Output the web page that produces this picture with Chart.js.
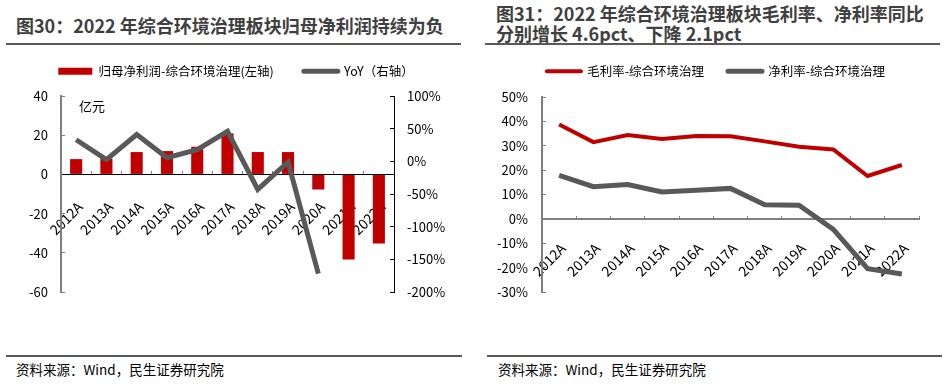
<!DOCTYPE html>
<html>
<head>
<meta charset="utf-8">
<script src="https://cdn.jsdelivr.net/npm/chart.js@4.4.1/dist/chart.umd.min.js"></script>
<style>
  body { margin: 0; width: 947px; height: 389px; background: #fff; position: relative; overflow: hidden;
         font-family: "Noto Sans CJK SC", sans-serif; }
  .title { position: absolute; font-weight: bold; font-size: 18px; color: #404040; line-height: 20px; white-space: nowrap; }
  .rule { position: absolute; height: 2px; background: #595959; }
  .src { position: absolute; font-size: 13.5px; color: #000; line-height: 16px; white-space: nowrap; }
  .box { position: absolute; width: 470px; }
</style>
</head>
<body>
<div class="title" style="left:16px;top:15px;">图30：2022 年综合环境治理板块归母净利润持续为负</div>
<div class="title" style="left:496px;top:3px;">图31：2022 年综合环境治理板块毛利率、净利率同比<br>分别增长 4.6pct、下降 2.1pct</div>
<div class="rule" style="left:6px;top:43px;width:455px;"></div>
<div class="rule" style="left:485px;top:43px;width:455px;"></div>

<div class="box" style="left:0px;top:35px;height:267px;"><canvas id="left_chart"></canvas></div>
<div class="box" style="left:477px;top:41px;height:261px;"><canvas id="right_chart"></canvas></div>

<div class="rule" style="left:6px;top:355px;width:456px;"></div>
<div class="rule" style="left:487px;top:355px;width:455px;"></div>
<div class="src" style="left:16px;top:361px;">资料来源：Wind，民生证券研究院</div>
<div class="src" style="left:498px;top:361px;">资料来源：Wind，民生证券研究院</div>

<script>
// 数据
const years = ['2012A', '2013A', '2014A', '2015A', '2016A', '2017A', '2018A', '2019A', '2020A', '2021A', '2022A'];
const netProfit = [7.8, 8.0, 11.4, 11.9, 14.1, 20.9, 11.4, 11.4, -7.7, -43.4, -35.2];   // 亿元
const netProfitYoy = [33, 2.5, 41, 5.6, 18, 46, -43, -1, -172, null, null];             // %
const grossMargin = [38.7, 31.5, 34.4, 32.8, 34.0, 33.9, 31.8, 29.6, 28.5, 17.6, 22.1]; // %
const netMargin = [17.8, 13.2, 14.1, 11.0, 11.7, 12.5, 5.8, 5.6, -4.3, -20.4, -22.6];   // %

const RED = '#C00000';
const GRAY = '#595959';
const FONT = '"Noto Sans CJK SC", sans-serif';

Chart.defaults.font.family = FONT;
Chart.defaults.font.size = 13;
Chart.defaults.color = '#000';
Chart.defaults.animation = false;

function legendItems(chart) {
    return chart.data.datasets.map((ds, i) => ({
        text       : ds.label,
        fillStyle  : ds.type === 'line' ? ds.borderColor : ds.backgroundColor,
        strokeStyle: ds.type === 'line' ? ds.borderColor : ds.backgroundColor,
        lineWidth  : ds.type === 'line' ? ds.legendWidth : 0,
        lineCap    : 'round',
        pointStyle : ds.type === 'line' ? 'line' : 'rect',
        fontColor  : '#000',
        hidden     : false,
        datasetIndex: i
    }));
}

function legendOpts(padding) {
    return {
        labels: {
            usePointStyle : true,
            pointStyleWidth: 34,
            boxHeight     : 7,
            padding       : padding,
            font          : {size: 12.5},
            generateLabels: legendItems
        }
    };
}

// 图例高度固定、水平微调
const legendFix = {
    id: 'legendFix',
    afterInit(chart, args, opts) {
        const lg = chart.legend;
        const fit = lg.fit;
        lg.fit = function () {
            fit.call(this);
            this.height = opts.height;
        };
    },
    afterLayout(chart, args, opts) {
        chart.legend.left += opts.dx;
        chart.legend.right += opts.dx;
    }
};

// 左图：亿元 标注
const unitLabel = {
    id: 'unitLabel',
    afterDraw(chart) {
        const ctx = chart.ctx;
        ctx.save();
        ctx.font = '13px ' + FONT;
        ctx.fillStyle = '#000';
        ctx.textBaseline = 'middle';
        ctx.fillText('亿元', chart.chartArea.left + 18, chart.chartArea.top + 10);
        ctx.restore();
    }
};

function xScale(pad, borderColor) {
    return {
        position: {y: 0},
        offset  : true,
        grid    : {drawOnChartArea: false, offset: true, tickLength: -4, color: '#7f7f7f'},
        border  : {color: borderColor, width: borderColor === '#000' ? 1 : 2},
        ticks   : {minRotation: 45, maxRotation: 45, autoSkip: false, padding: pad, labelOffset: 4, font: {size: 14}},
        afterFit: s => { s.height = 0; }
    };
}

function fixWidth(w) {
    return s => { s.width = w; s.paddingTop = 0; s.paddingBottom = 0; };
}

new Chart(document.getElementById('left_chart'), {
    data: {
        labels: years,
        datasets: [{
            type           : 'bar',
            label          : '归母净利润-综合环境治理(左轴)',
            data           : netProfit,
            backgroundColor: RED,
            yAxisID        : 'y',
            barPercentage  : 0.4,
            categoryPercentage: 1,
            order          : 1
        }, {
            type       : 'line',
            label      : 'YoY（右轴）',
            data       : netProfitYoy,
            borderColor: GRAY,
            backgroundColor: GRAY,
            borderWidth: 5,
            legendWidth: 5,
            pointRadius: 0,
            tension    : 0,
            yAxisID    : 'y1',
            order      : 0
        }]
    },
    options: {
        responsive: true,
        maintainAspectRatio: false,
        layout: {padding: {top: 0, bottom: 10, left: 0, right: 0}},
        plugins: {
            legend   : legendOpts(30),
            legendFix: {height: 61, dx: 1},
            tooltip  : {enabled: false}
        },
        scales: {
            x: xScale(28, '#000'),
            y: {
                position: 'left',
                min: -60, max: 40,
                ticks   : {stepSize: 20, padding: 17},
                grid    : {drawOnChartArea: false, tickLength: -4, color: '#7f7f7f'},
                border  : {color: '#7f7f7f', width: 2},
                afterFit: fixWidth(61)
            },
            y1: {
                position: 'right',
                min: -200, max: 100,
                ticks   : {stepSize: 50, padding: 17, callback: v => v + '%'},
                grid    : {drawOnChartArea: false, tickLength: -4, color: '#000'},
                border  : {color: '#000', width: 1},
                afterFit: fixWidth(76)
            }
        }
    },
    plugins: [legendFix, unitLabel]
});

new Chart(document.getElementById('right_chart'), {
    type: 'line',
    data: {
        labels: years,
        datasets: [{
            type       : 'line',
            label      : '毛利率-综合环境治理',
            data       : grossMargin,
            borderColor: RED,
            backgroundColor: RED,
            borderWidth: 4,
            legendWidth: 4,
            pointRadius: 0,
            tension    : 0
        }, {
            type       : 'line',
            label      : '净利率-综合环境治理',
            data       : netMargin,
            borderColor: GRAY,
            backgroundColor: GRAY,
            borderWidth: 5,
            legendWidth: 5,
            pointRadius: 0,
            tension    : 0
        }]
    },
    options: {
        responsive: true,
        maintainAspectRatio: false,
        layout: {padding: {top: 0, bottom: 10, left: 0, right: 28}},
        plugins: {
            legend   : legendOpts(24),
            legendFix: {height: 56, dx: 18},
            tooltip  : {enabled: false}
        },
        scales: {
            x: xScale(25, '#7f7f7f'),
            y: {
                position: 'left',
                min: -30, max: 50,
                ticks   : {stepSize: 10, padding: 18, callback: v => v + '%'},
                grid    : {drawOnChartArea: false, tickLength: -4, color: '#7f7f7f'},
                border  : {color: '#7f7f7f', width: 2},
                afterFit: fixWidth(65)
            }
        }
    },
    plugins: [legendFix]
});
</script>
</body>
</html>
